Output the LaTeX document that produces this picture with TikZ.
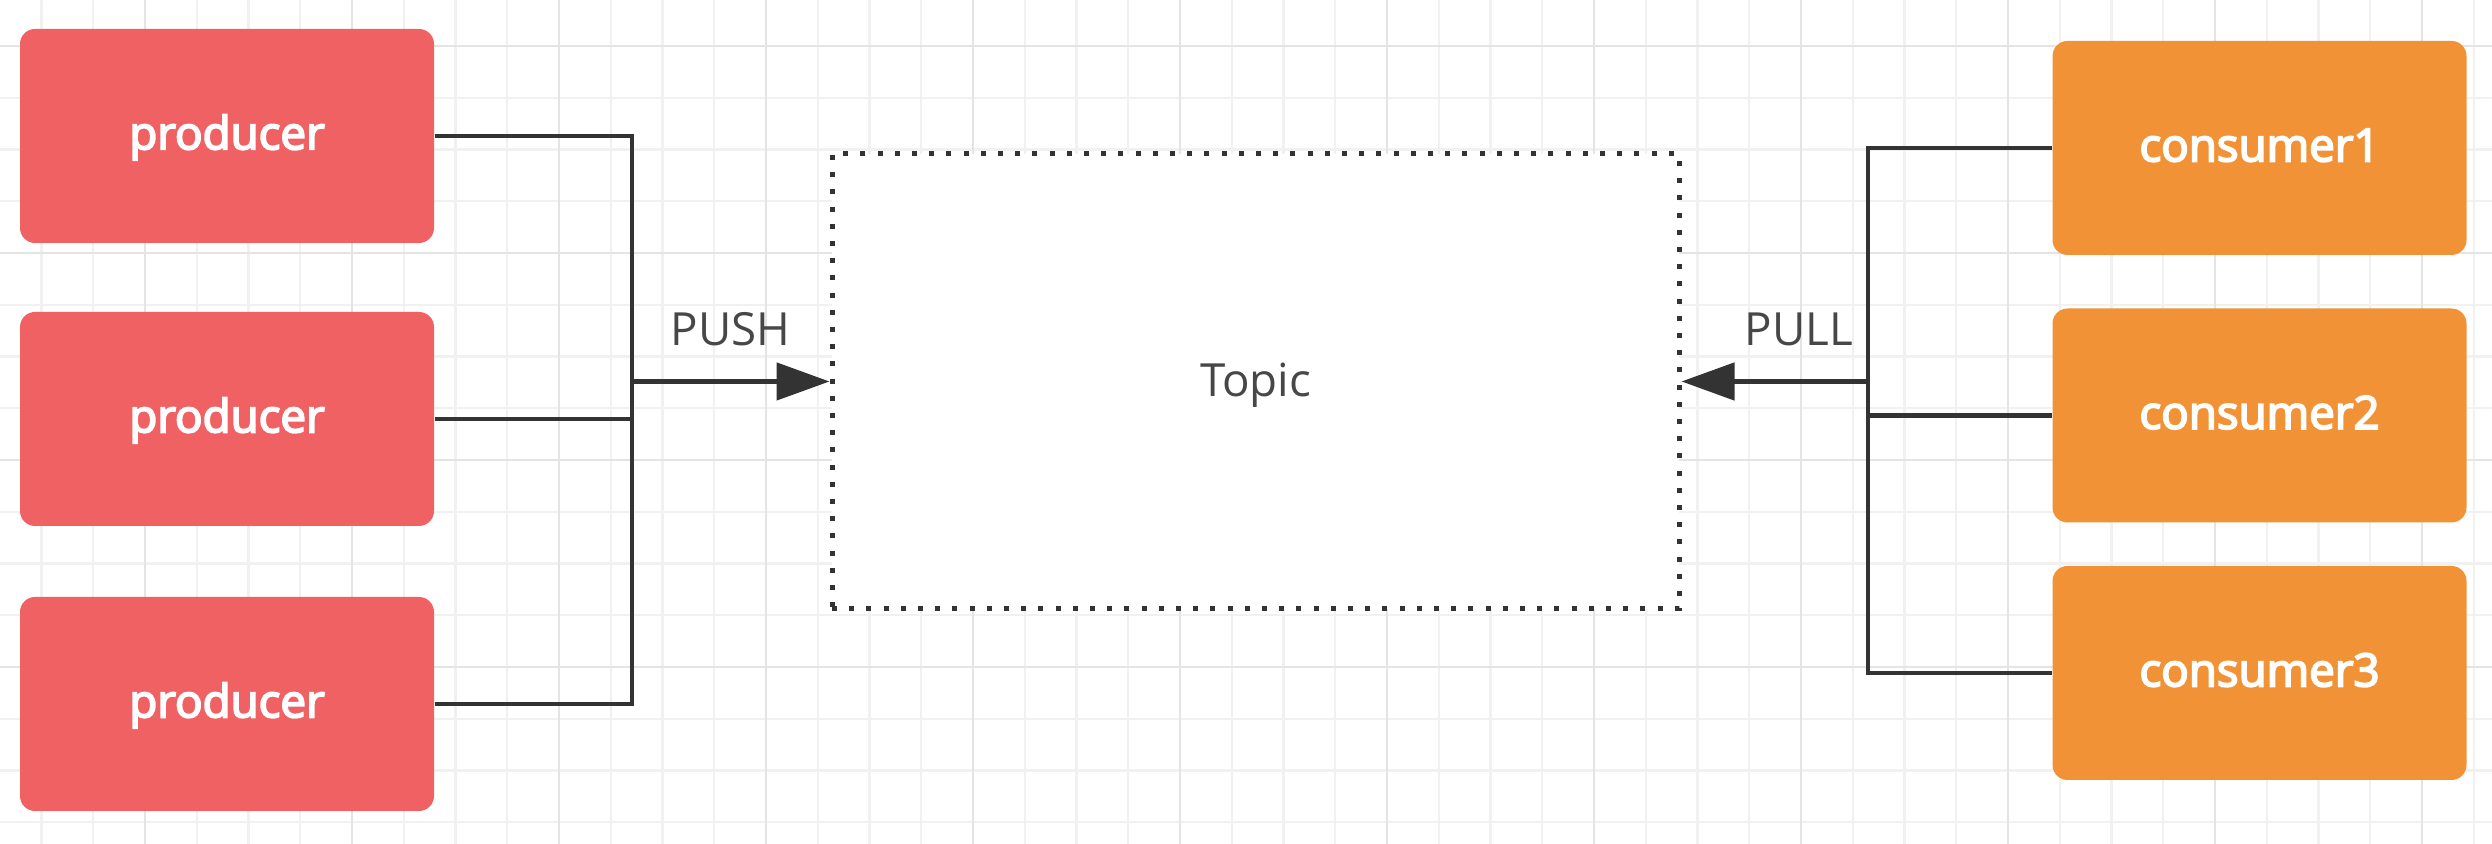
\documentclass[tikz,border=0pt]{standalone}
\usepackage{fontspec}
\setmainfont{Open Sans}
\newfontfamily\boxfont[FakeBold=4]{Open Sans}
\usepackage{tikz}
\usetikzlibrary{arrows.meta,positioning,calc}
\definecolor{mqred}{HTML}{F06163}
\definecolor{mqorange}{HTML}{F29236}
\definecolor{mqdark}{HTML}{333333}
\definecolor{mqgrid}{HTML}{F1F1F1}
\definecolor{mqgridd}{HTML}{E4E4E4}
\tikzset{
  mqbox/.style     = {rounded corners=0.15cm, align=center, inner sep=2pt,
                      minimum width=4.14cm, minimum height=2.14cm,
                      text height=0.76em, text depth=0pt,
                      font=\boxfont\fontsize{13}{15}\selectfont, text=white},
  producer/.style  = {mqbox, fill=mqred},
  consumer/.style  = {mqbox, fill=mqorange},
  topicbox/.style  = {draw=mqdark, fill=white, line width=0.05cm,
                      dash pattern=on 0.05cm off 0.122cm,
                      minimum width=8.47cm, minimum height=4.55cm,
                      text height=0.86em, text depth=0pt,
                      font=\fontsize{13}{15}\selectfont, text=mqdark!90},
  %
  wire/.style      = {draw=mqdark, line width=0.048cm},
  flow/.style      = {wire, -{Triangle[length=5.3mm,width=3.7mm]}},
  lbl/.style       = {font=\fontsize{13}{15}\selectfont, text=mqdark!90, inner sep=1pt},
  gridline/.style  = {draw=mqgrid, line width=0.022cm},
  gridmajor/.style = {draw=mqgridd, line width=0.022cm},
}

\begin{document}
\begin{tikzpicture}

  % ---------- canvas and grid ------------------------------------------
  \useasboundingbox (0,0) rectangle (24.92,8.44);
  \fill[white] (0,0) rectangle (24.92,8.44);
  \foreach \i in {0,...,47}
    \draw[gridline] ({0.415+0.5175*\i},0) -- ++(0,8.44);
  \foreach \j in {0,...,15}
    \draw[gridline] (0,{7.98-0.5175*\j}) -- ++(24.92,0);
  \foreach \i in {0,...,11}
    \draw[gridmajor] ({1.45+2.07*\i},0) -- ++(0,8.44);
  \foreach \j in {0,...,3}
    \draw[gridmajor] (0,{7.98-2.07*\j}) -- ++(24.92,0);

  % ---------- producers -------------------------------------------------
  \node[producer] (prod1) at (2.27,7.08) {producer};
  \node[producer] (prod2) at (2.27,4.25) {producer};
  \node[producer] (prod3) at (2.27,1.40) {producer};

  % ---------- topic -----------------------------------------------------
  \node[topicbox] (topic) at (12.555,4.625) {Topic};

  % ---------- consumers -------------------------------------------------
  \node[consumer] (cons1) at (22.595,6.96) {consumer1};
  \node[consumer] (cons2) at (22.595,4.285) {consumer2};
  \node[consumer] (cons3) at (22.595,1.71) {consumer3};

  % joints on the two vertical buses
  \coordinate (pushjoin) at (6.32,4.625);
  \coordinate (pulljoin) at (18.68,4.625);

  % ---------- connectors -------------------------------------------------
  % producers -> bus -> topic
  \draw[wire] (prod1.east) -| (pushjoin);
  \draw[wire] (prod3.east) -| (pushjoin);
  \draw[wire] (prod2.east) -- (prod2.east -| pushjoin);
  \draw[flow] (pushjoin) -- node[lbl, above=0.3cm, pos=0.5] {PUSH} (topic.west);

  % consumers -> bus -> topic
  \draw[wire] (cons1.west) -| (pulljoin);
  \draw[wire] (cons3.west) -| (pulljoin);
  \draw[wire] (cons2.west) -- (cons2.west -| pulljoin);
  \draw[flow] (pulljoin) -- node[lbl, above=0.3cm, pos=0.37] {PULL} (topic.east);

\end{tikzpicture}
\end{document}
